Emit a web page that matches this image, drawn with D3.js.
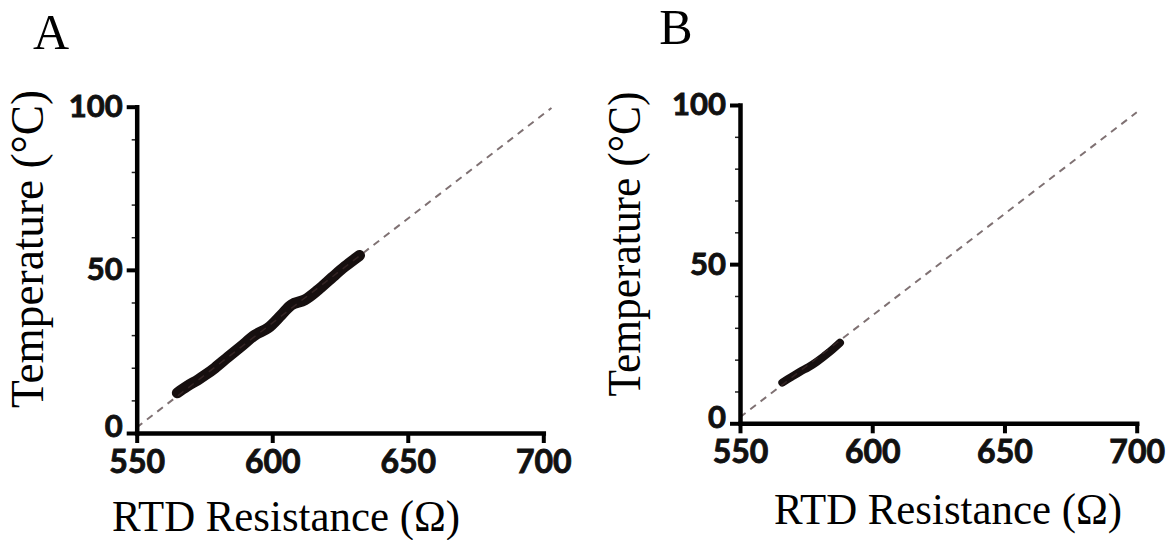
<!DOCTYPE html>
<html>
<head>
<meta charset="utf-8">
<script src="https://cdn.jsdelivr.net/npm/d3@7"></script>
<style>
  html, body { margin: 0; padding: 0; background: #fff; }
  svg { display: block; }
</style>
</head>
<body>
<svg id="chart" width="1175" height="540"></svg>
<script>
// ---------- data ----------
const panelLabels = ["A", "B"];
const xTicks = [550, 600, 650, 700];
const yTicks = [0, 50, 100];
const yMinorTicks = [10, 20, 30, 40, 60, 70, 80, 90];
const xTitle = "RTD Resistance (Ω)";
const yTitle = "Temperature (°C)";

// Panel A measured trace (resistance Ω, temperature °C)
const seriesA_R = [565.0, 568.5, 572.6, 575.5, 578.8, 583.7, 588.6, 593.6, 598.5, 603.4, 607.1, 612.0, 617.0, 621.9, 626.8, 632.2];
const seriesA_T = [12.3, 14.3, 16.3, 17.9, 19.9, 23.3, 26.6, 30.0, 32.2, 36.2, 39.3, 40.8, 43.9, 47.5, 51.0, 54.4];

// Panel B measured trace
const seriesB_R = [566.0, 569.5, 572.7, 576.0, 579.0, 584.0, 587.8];
const seriesB_T = [12.8, 14.6, 16.2, 17.7, 19.3, 22.5, 25.3];

// Dashed reference (fit) lines
const fitA_R = [550, 703];
const fitA_T = [1.7, 99.6];
const fitB_R = [550, 700];
const fitB_T = [1.9, 97.7];

// ---------- drawing ----------
const svg = d3.select("#chart");

const panels = [
  { label: panelLabels[0], labelX: 51, labelY: 49,
    x0: 136.7, x1: 543.3, yBot: 433, yTop: 106.7,
    R: seriesA_R, T: seriesA_T, fitR: fitA_R, fitT: fitA_T, bandW: 11,
    xTitleX: 286, xTitleY: 531, yTitleX: 43, yTitleY: 249, yTitleLen: 318 },
  { label: panelLabels[1], labelX: 676, labelY: 44,
    x0: 740, x1: 1136.7, yBot: 423.3, yTop: 105,
    R: seriesB_R, T: seriesB_T, fitR: fitB_R, fitT: fitB_T, bandW: 8,
    xTitleX: 948, xTitleY: 524, yTitleX: 640, yTitleY: 244, yTitleLen: 305 }
];

const tickFont = "Lato, 'Open Sans', sans-serif";
const serif = "'Liberation Serif', 'Times New Roman', serif";

panels.forEach(p => {
  const x = d3.scaleLinear().domain([550, 700]).range([p.x0, p.x1]);
  const y = d3.scaleLinear().domain([0, 100]).range([p.yBot, p.yTop]);
  const g = svg.append("g");

  // dashed reference line
  const fitPts = p.fitR.map((r, i) => [r, p.fitT[i]]);
  g.append("path")
    .datum(fitPts)
    .attr("d", d3.line().x(d => x(d[0])).y(d => y(d[1])))
    .attr("fill", "none")
    .attr("stroke", "#8c8587")
    .attr("stroke-width", 2)
    .attr("stroke-dasharray", "7,6");

  // measured band
  const pts = p.R.map((r, i) => [r, p.T[i]]);
  g.append("path")
    .datum(pts)
    .attr("d", d3.line().x(d => x(d[0])).y(d => y(d[1])).curve(d3.curveCatmullRom))
    .attr("fill", "none")
    .attr("stroke", "#160f0f")
    .attr("stroke-width", p.bandW)
    .attr("stroke-linecap", "round")
    .attr("stroke-linejoin", "round");

  // faint reference visible over the band
  g.append("path")
    .datum(fitPts)
    .attr("d", d3.line().x(d => x(d[0])).y(d => y(d[1])))
    .attr("fill", "none")
    .attr("stroke", "#6a4a4a")
    .attr("stroke-opacity", 0.35)
    .attr("stroke-width", 1.5)
    .attr("stroke-dasharray", "7,6");

  // minor y ticks
  const yMinor = g.append("g")
    .attr("transform", `translate(${p.x0},0)`)
    .call(d3.axisLeft(y).tickValues(yMinorTicks).tickSize(5).tickSizeOuter(0).tickFormat(""));
  yMinor.select(".domain").remove();
  yMinor.selectAll(".tick line").attr("stroke", "#222").attr("stroke-width", 1.5);

  // x axis
  const xa = g.append("g")
    .attr("transform", `translate(0,${p.yBot})`)
    .call(d3.axisBottom(x).tickValues(xTicks).tickSize(10).tickSizeOuter(0).tickPadding(7).tickFormat(d3.format("d")));
  xa.select(".domain").attr("stroke", "#000").attr("stroke-width", 4.5).attr("stroke-linecap", "square");
  xa.selectAll(".tick line").attr("stroke", "#000").attr("stroke-width", 4);
  xa.selectAll(".tick text")
    .attr("font-family", tickFont).attr("font-weight", 700).attr("font-size", 32)
    .attr("fill", "#111").attr("stroke", "#111").attr("stroke-width", 0.9);

  // y axis
  const ya = g.append("g")
    .attr("transform", `translate(${p.x0},0)`)
    .call(d3.axisLeft(y).tickValues(yTicks).tickSize(10).tickSizeOuter(0).tickPadding(4).tickFormat(d3.format("d")));
  ya.select(".domain").attr("stroke", "#000").attr("stroke-width", 4.5).attr("stroke-linecap", "square");
  ya.selectAll(".tick line").attr("stroke", "#000").attr("stroke-width", 4);
  ya.selectAll(".tick text")
    .attr("font-family", tickFont).attr("font-weight", 700).attr("font-size", 31)
    .attr("fill", "#111").attr("stroke", "#111").attr("stroke-width", 0.9);
  ya.selectAll(".tick text").filter(d => d === 0).attr("dy", "0.12em");

  // axis titles
  g.append("text")
    .attr("x", p.xTitleX).attr("y", p.xTitleY)
    .attr("text-anchor", "middle")
    .attr("font-family", serif).attr("font-size", 45)
    .attr("textLength", 348).attr("lengthAdjust", "spacingAndGlyphs")
    .text(xTitle);

  g.append("text")
    .attr("transform", `translate(${p.yTitleX},${p.yTitleY}) rotate(-90)`)
    .attr("text-anchor", "middle")
    .attr("font-family", serif).attr("font-size", 46)
    .attr("textLength", p.yTitleLen).attr("lengthAdjust", "spacingAndGlyphs")
    .text(yTitle);

  // panel label
  g.append("text")
    .attr("x", p.labelX).attr("y", p.labelY)
    .attr("text-anchor", "middle")
    .attr("font-family", serif).attr("font-size", 50)
    .text(p.label);
});
</script>
</body>
</html>
